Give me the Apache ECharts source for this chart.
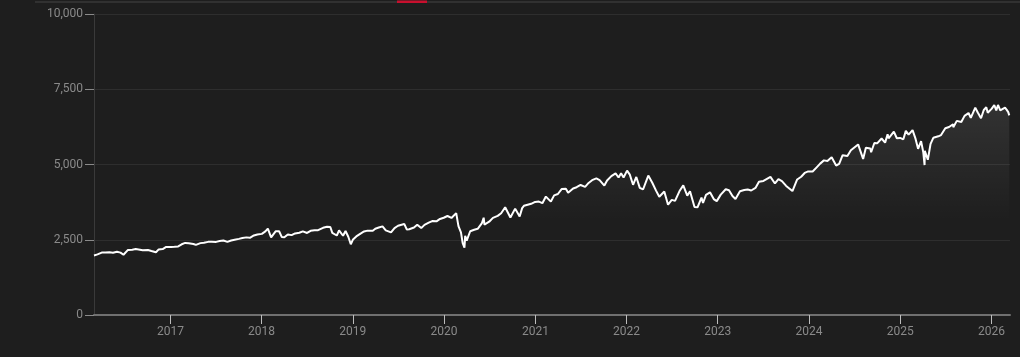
<!DOCTYPE html>
<html>
<head>
<meta charset="utf-8">
<script src="https://cdn.jsdelivr.net/npm/echarts@6/dist/echarts.min.js"></script>
<style>
html,body{margin:0;padding:0;background:#1e1e1e;}
#c{width:1020px;height:357px;}
</style>
</head>
<body>
<div id="c"></div>
<script>
const dates = [
'2016-03-01','2016-03-15','2016-04-01','2016-04-15','2016-05-02','2016-05-16','2016-06-01','2016-06-15','2016-06-27','2016-07-15','2016-08-01','2016-08-15','2016-09-01','2016-09-12','2016-10-03','2016-10-17','2016-11-04','2016-11-15','2016-12-01','2016-12-15',
'2017-01-03','2017-01-17','2017-02-01','2017-02-15','2017-03-01','2017-03-15','2017-04-03','2017-04-13','2017-05-01','2017-05-15','2017-05-17','2017-06-01','2017-06-15','2017-07-03','2017-07-17','2017-08-01','2017-08-17','2017-09-01','2017-09-15','2017-10-02','2017-10-16','2017-11-01','2017-11-15','2017-12-01','2017-12-15',
'2018-01-02','2018-01-16','2018-01-26','2018-02-08','2018-02-26','2018-03-12','2018-03-23','2018-04-02','2018-04-16','2018-05-01','2018-05-15','2018-06-01','2018-06-15','2018-07-02','2018-07-16','2018-08-01','2018-08-15','2018-09-04','2018-09-20','2018-10-03','2018-10-11','2018-10-29','2018-11-07','2018-11-23','2018-12-03','2018-12-14','2018-12-24',
'2019-01-02','2019-01-15','2019-02-01','2019-02-15','2019-03-01','2019-03-22','2019-04-01','2019-04-15','2019-04-30','2019-05-13','2019-06-03','2019-06-17','2019-07-01','2019-07-26','2019-08-05','2019-08-15','2019-08-23','2019-09-03','2019-09-16','2019-10-02','2019-10-15','2019-11-01','2019-11-15','2019-12-02','2019-12-16','2019-12-31',
'2020-01-15','2020-01-31','2020-02-19','2020-02-28','2020-03-09','2020-03-16','2020-03-23','2020-03-26','2020-04-01','2020-04-15','2020-05-01','2020-05-15','2020-06-01','2020-06-08','2020-06-11','2020-06-30','2020-07-15','2020-08-03','2020-08-17','2020-09-02','2020-09-23','2020-10-12','2020-10-30','2020-11-09','2020-11-16','2020-12-01','2020-12-15','2020-12-31',
'2021-01-15','2021-01-29','2021-02-12','2021-03-04','2021-03-17','2021-04-01','2021-04-16','2021-05-03','2021-05-12','2021-06-01','2021-06-15','2021-07-01','2021-07-19','2021-08-02','2021-08-16','2021-09-02','2021-09-15','2021-10-04','2021-10-15','2021-11-01','2021-11-18','2021-11-30','2021-12-10','2021-12-20',
'2022-01-03','2022-01-14','2022-01-27','2022-02-09','2022-02-23','2022-03-08','2022-03-29','2022-04-14','2022-04-29','2022-05-12','2022-05-20','2022-06-01','2022-06-16','2022-07-01','2022-07-14','2022-08-01','2022-08-16','2022-09-01','2022-09-12','2022-09-30','2022-10-12','2022-10-28','2022-11-03','2022-11-15','2022-12-01','2022-12-16','2022-12-28',
'2023-01-13','2023-02-02','2023-02-15','2023-03-01','2023-03-13','2023-03-31','2023-04-17','2023-05-01','2023-05-15','2023-06-01','2023-06-15','2023-07-03','2023-07-31','2023-08-18','2023-09-01','2023-09-15','2023-10-02','2023-10-27','2023-11-15','2023-12-01','2023-12-15','2023-12-29',
'2024-01-16','2024-02-01','2024-02-15','2024-03-01','2024-03-15','2024-04-01','2024-04-19','2024-05-01','2024-05-15','2024-06-03','2024-06-17','2024-07-16','2024-08-05','2024-08-16','2024-09-03','2024-09-06','2024-09-19','2024-10-01','2024-10-18','2024-11-01','2024-11-11','2024-11-15','2024-12-06','2024-12-18','2024-12-31',
'2025-01-13','2025-01-23','2025-02-03','2025-02-19','2025-03-03','2025-03-13','2025-03-25','2025-04-03','2025-04-08','2025-04-09','2025-04-21','2025-05-02','2025-05-13','2025-06-02','2025-06-13','2025-06-30','2025-07-15','2025-07-31','2025-08-01','2025-08-15','2025-09-02','2025-09-15','2025-10-01','2025-10-10','2025-10-28','2025-11-07','2025-11-20','2025-12-01','2025-12-11','2025-12-17',
'2026-01-02','2026-01-12','2026-01-20','2026-01-27','2026-02-05','2026-02-12','2026-02-24','2026-03-03','2026-03-09','2026-03-13'
];
const values = [
1978,2015,2073,2080,2081,2066,2100,2072,2000,2162,2170,2190,2170,2150,2161,2126,2085,2180,2191,2262,
2258,2268,2279,2349,2395,2385,2359,2328,2388,2402,2357,2430,2433,2429,2459,2476,2430,2476,2500,2529,2557,2579,2564,2642,2675,
2695,2776,2872,2581,2779,2783,2588,2582,2677,2654,2711,2734,2779,2726,2798,2813,2818,2896,2930,2925,2728,2641,2813,2633,2790,2600,2351,
2510,2610,2706,2775,2803,2800,2867,2905,2945,2812,2744,2889,2964,3025,2844,2847,2847,2906,2997,2887,2995,3066,3120,3113,3191,3230,
3289,3225,3386,2954,2746,2386,2237,2630,2470,2783,2830,2863,3055,3232,3002,3100,3226,3294,3381,3580,3237,3534,3270,3550,3627,3662,3694,3756,
3768,3714,3934,3768,3974,4020,4185,4192,4063,4202,4246,4320,4258,4387,4479,4537,4480,4300,4471,4613,4704,4567,4712,4568,
4796,4662,4326,4587,4225,4170,4631,4392,4132,3930,3901,4101,3666,3825,3790,4118,4305,3966,4110,3585,3577,3901,3720,3991,4076,3852,3783,
3999,4179,4147,3951,3855,4109,4151,4167,4136,4221,4426,4455,4589,4370,4515,4450,4288,4117,4502,4594,4719,4770,
4766,4906,5029,5137,5117,5243,4967,5018,5308,5283,5473,5667,5186,5554,5528,5408,5713,5708,5864,5728,6001,5870,6090,5872,5882,
5836,6118,5994,6144,5850,5522,5776,5397,4982,5457,5158,5687,5886,5936,5977,6205,6244,6339,6238,6449,6415,6615,6711,6552,6890,6728,6538,6812,6901,6721,
6858,6977,6797,6978,6798,6832,6890,6816,6740,6632
];
const yearTicks = ['2017-01-01','2018-01-01','2019-01-01','2020-01-01','2021-01-01','2022-01-01','2023-01-01','2024-01-01','2025-01-01','2026-01-01'];
const xRange = ['2016-03-01','2026-03-16'];

const ts = s => Date.parse(s + 'T00:00:00Z');
const chart = echarts.init(document.getElementById('c'), null, {renderer:'canvas'});
const data = dates.map((d,i)=>[ts(d), values[i]]);
const tickTs = yearTicks.map(ts);
chart.setOption({
  backgroundColor:'#1e1e1e',
  animation:false,
  grid:{left:94,right:10,top:14,bottom:42,containLabel:false},
  graphic:[
    {type:'rect',shape:{x:35,y:1.5,width:985,height:1},style:{fill:'#444444'}},
    {type:'rect',shape:{x:397,y:0.5,width:30,height:2.5},style:{fill:'#c8102e'}}
  ],
  xAxis:{
    type:'value',
    min:ts(xRange[0]),
    max:ts(xRange[1]),
    axisLine:{show:true,onZero:false,lineStyle:{color:'#707070',width:2}},
    axisTick:{show:true,length:9,lineStyle:{color:'#bdbdbd',width:1},customValues:tickTs},
    axisLabel:{color:'#8a8a8a',fontSize:12,fontFamily:'Roboto',margin:11,customValues:tickTs,
      formatter:function(v){return String(new Date(v).getUTCFullYear());}},
    splitLine:{show:false}
  },
  yAxis:{
    type:'value',
    min:0,max:10000,interval:2500,
    axisLine:{show:true,lineStyle:{color:'#3a3a3a',width:1}},
    axisTick:{show:true,length:9,lineStyle:{color:'#8a8a8a'}},
    axisLabel:{color:'#8a8a8a',fontSize:12,fontFamily:'Roboto',margin:11,
      formatter:function(v){return v.toLocaleString('en-US');}},
    splitLine:{show:true,lineStyle:{color:'#2e2e2e',width:1}}
  },
  series:[{
    type:'line',
    data:data,
    showSymbol:false,
    smooth:false,
    lineStyle:{color:'#ffffff',width:2},
    areaStyle:{color:new echarts.graphic.LinearGradient(0,0,0,1,[
      {offset:0,color:'rgba(255,255,255,0.13)'},
      {offset:0.55,color:'rgba(255,255,255,0)'},
      {offset:1,color:'rgba(255,255,255,0)'}
    ])}
  }]
});
</script>
</body>
</html>
